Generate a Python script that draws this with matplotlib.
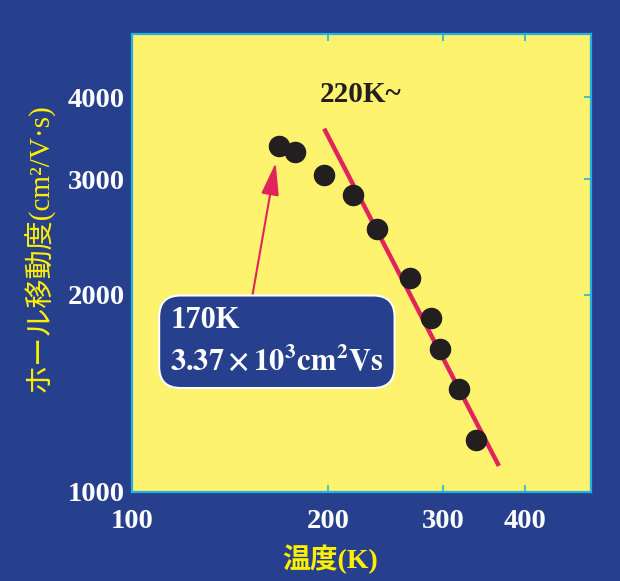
import matplotlib
matplotlib.use("Agg")
import matplotlib.pyplot as plt
from matplotlib.ticker import FixedLocator, NullLocator, FixedFormatter

# Hall mobility vs temperature (log-log)
temps = [168, 178, 197, 218, 237, 267, 287, 297, 317, 337]
mobility = [3370, 3300, 3050, 2840, 2520, 2120, 1845, 1650, 1435, 1200]

# power-law guide line above 220 K
fit_temps = [197, 365]
fit_mobility = [3585, 1096]

x_ticks = [100, 200, 300, 400]
y_ticks = [1000, 2000, 3000, 4000]

BG = "#27408E"
PLOT_BG = "#FDF36E"
EDGE = "#22B2E0"
RED = "#E2245C"
YELLOW = "#FFF000"

plt.rcParams["mathtext.fontset"] = "stix"
serif = ["Liberation Serif", "DejaVu Serif"]
cjk = ["Liberation Serif", "Noto Sans CJK JP"]

fig = plt.figure(figsize=(6.2, 5.81), dpi=100, facecolor=BG)
ax = fig.add_axes([0.213, 0.1532, 0.740, 0.7883])
ax.set_facecolor(PLOT_BG)
ax.set_xscale("log")
ax.set_yscale("log")
ax.set_xlim(100, 505)
ax.set_ylim(1000, 5000)

for s in ax.spines.values():
    s.set_color(EDGE)
    s.set_linewidth(1.6)

ax.xaxis.set_major_locator(FixedLocator(x_ticks))
ax.xaxis.set_major_formatter(FixedFormatter([str(v) for v in x_ticks]))
ax.xaxis.set_minor_locator(NullLocator())
ax.yaxis.set_major_locator(FixedLocator(y_ticks))
ax.yaxis.set_major_formatter(FixedFormatter([str(v) for v in y_ticks]))
ax.yaxis.set_minor_locator(NullLocator())

ax.tick_params(axis="x", direction="in", top=True, bottom=True, length=5,
               width=1.2, color=EDGE, pad=12, labelsize=20.5, labelcolor="white")
ax.tick_params(axis="y", direction="in", left=False, right=True, length=5,
               width=1.2, color=EDGE, pad=5, labelsize=20.5, labelcolor="white")
for lab in ax.get_xticklabels() + ax.get_yticklabels():
    lab.set_fontfamily(serif)
    lab.set_fontweight("bold")

# fit line and measured points
ax.plot(fit_temps, fit_mobility, color=RED, lw=3.2, solid_capstyle="butt", zorder=2)
ax.plot(temps, mobility, "o", ms=14.5, color="#231F20", zorder=3)

ax.text(0.41, 0.868, "220K~", transform=ax.transAxes, fontsize=21,
        fontweight="bold", family=serif, color="#231F20", ha="left", va="center")

# peak annotation: arrow + rounded label box
ax.annotate("", xy=(166, 3180), xytext=(153, 2000),
            arrowprops=dict(arrowstyle="-|>,head_length=2.0,head_width=0.55",
                            color=RED, lw=1.5, shrinkA=0, shrinkB=0))
ax.text(0.083, 0.405, "170K\n" + r"$\mathbf{3.37\times10^3cm^2Vs}$",
        transform=ax.transAxes, fontsize=22, fontweight="bold", family=serif,
        color="white", ha="left", va="top", linespacing=1.45,
        bbox=dict(boxstyle="round,pad=0.36,rounding_size=0.7", fc=BG,
                  ec="white", lw=1.5))

fig.text(0.063, 0.573, "ホール移動度(cm²/V·s)", rotation=90, ha="center",
         va="center", fontsize=21, color=YELLOW, family=cjk)
fig.text(0.532, 0.038, "温度(K)", ha="center", va="center", fontsize=20,
         color=YELLOW, family=cjk, fontweight="bold")

fig.savefig("out.png", dpi=100, facecolor=BG)
